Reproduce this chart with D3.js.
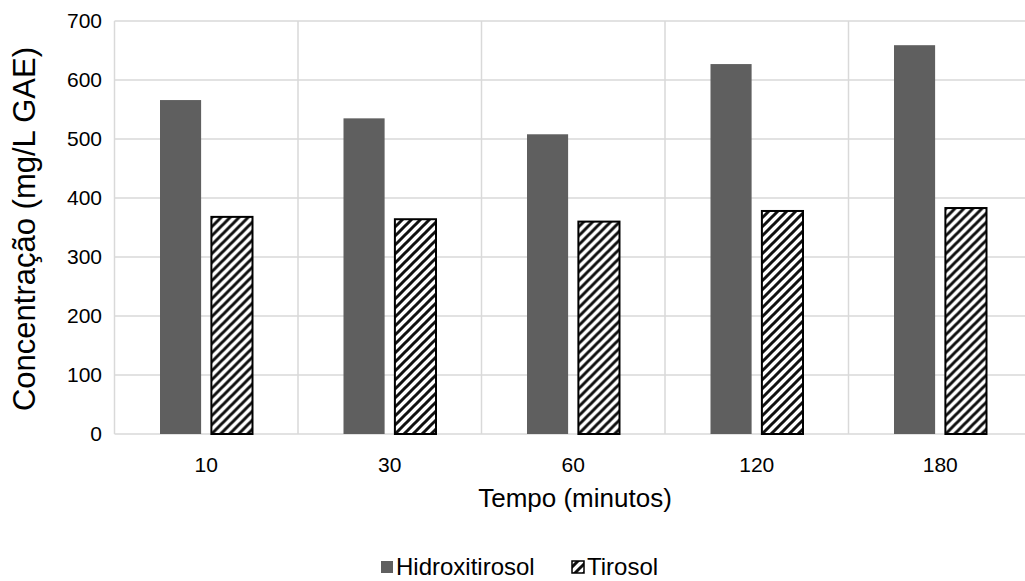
<!DOCTYPE html>
<html lang="pt">
<head>
<meta charset="UTF-8" />
<title>Concentração</title>
<script src="https://d3js.org/d3.v7.min.js"></script>
<style>
  body { margin: 0; padding: 0; background: #fff; }
  svg { display: block; font-family: "Liberation Sans", Arial, sans-serif; }
</style>
</head>
<body>
<svg width="1025" height="581"></svg>
<script>
  const categories = ["10", "30", "60", "120", "180"];
  const seriesNames = ["Hidroxitirosol", "Tirosol"];
  const hidroxitirosol = [566, 535, 508, 627, 659];
  const tirosol = [368, 364, 360, 378, 383];
  const yTicks = [0, 100, 200, 300, 400, 500, 600, 700];

  const data = categories.map((c, i) => ({ cat: c, values: [hidroxitirosol[i], tirosol[i]] }));

  const width = 1025, height = 581;
  const margin = { top: 21, right: -7, bottom: 147, left: 114.5 };
  const svg = d3.select("svg");

  // hatch like Excel's wide upward diagonal
  const defs = svg.append("defs");
  const pat = defs.append("pattern")
    .attr("id", "hatch")
    .attr("patternUnits", "userSpaceOnUse")
    .attr("width", 9).attr("height", 9);
  pat.append("rect").attr("width", 9).attr("height", 9).attr("fill", "#fff");
  pat.append("path")
    .attr("d", "M-2,11 L11,-2 M-4.5,4.5 L4.5,-4.5 M4.5,13.5 L13.5,4.5")
    .attr("stroke", "#111").attr("stroke-width", 3);

  const x0 = d3.scaleBand()
    .domain(categories)
    .range([margin.left, width - margin.right])
    .padding(0);

  const x1 = d3.scaleBand()
    .domain(seriesNames)
    .range([45.5, x0.bandwidth() - 45.5])
    .paddingInner(0.2);

  const y = d3.scaleLinear()
    .domain([0, 700])
    .range([height - margin.bottom, margin.top]);

  const fills = { "Hidroxitirosol": "#5f5f5f", "Tirosol": "url(#hatch)" };

  // horizontal grid
  svg.append("g")
    .selectAll("line")
    .data(yTicks)
    .join("line")
    .attr("x1", margin.left).attr("x2", width)
    .attr("y1", d => y(d)).attr("y2", d => y(d))
    .attr("stroke", "#d9d9d9").attr("stroke-width", 1.5);

  // vertical category grid
  svg.append("g")
    .selectAll("line")
    .data(categories)
    .join("line")
    .attr("x1", d => x0(d)).attr("x2", d => x0(d))
    .attr("y1", y(700)).attr("y2", y(0))
    .attr("stroke", "#d9d9d9").attr("stroke-width", 1.5);

  // bars
  const groups = svg.append("g")
    .selectAll("g")
    .data(data)
    .join("g")
    .attr("transform", d => `translate(${x0(d.cat)},0)`);

  groups.selectAll("rect")
    .data(d => d.values.map((v, i) => ({ name: seriesNames[i], v })))
    .join("rect")
    .attr("x", d => x1(d.name))
    .attr("width", x1.bandwidth())
    .attr("y", d => y(d.v))
    .attr("height", d => y(0) - y(d.v))
    .attr("fill", d => fills[d.name])
    .attr("stroke", d => d.name === "Tirosol" ? "#000" : "none")
    .attr("stroke-width", 2);

  // y labels
  svg.append("g")
    .selectAll("text")
    .data(yTicks)
    .join("text")
    .attr("x", 102)
    .attr("y", d => y(d))
    .attr("dy", "0.35em")
    .attr("text-anchor", "end")
    .attr("font-size", 21)
    .attr("fill", "#000")
    .text(d => d);

  // x labels
  svg.append("g")
    .selectAll("text")
    .data(categories)
    .join("text")
    .attr("x", d => x0(d) + x0.bandwidth() / 2)
    .attr("y", 472)
    .attr("text-anchor", "middle")
    .attr("font-size", 21)
    .attr("fill", "#000")
    .text(d => d);

  svg.append("text")
    .attr("x", 575).attr("y", 507)
    .attr("text-anchor", "middle")
    .attr("font-size", 26)
    .text("Tempo (minutos)");

  svg.append("text")
    .attr("transform", "translate(35,229) rotate(-90)")
    .attr("text-anchor", "middle")
    .attr("font-size", 31)
    .text("Concentração (mg/L GAE)");

  // legend
  const legend = svg.append("g").attr("transform", "translate(381,567)");
  const legendX = [0, 191];
  seriesNames.forEach((name, i) => {
    const g = legend.append("g").attr("transform", `translate(${legendX[i]},0)`);
    g.append("rect")
      .attr("x", 0).attr("y", -6).attr("width", 12).attr("height", 12)
      .attr("fill", fills[name])
      .attr("stroke", name === "Tirosol" ? "#000" : "none")
      .attr("stroke-width", 1.5);
    g.append("text")
      .attr("x", 15).attr("y", 0).attr("dy", "0.35em")
      .attr("font-size", 24)
      .text(name);
  });
</script>
</body>
</html>
